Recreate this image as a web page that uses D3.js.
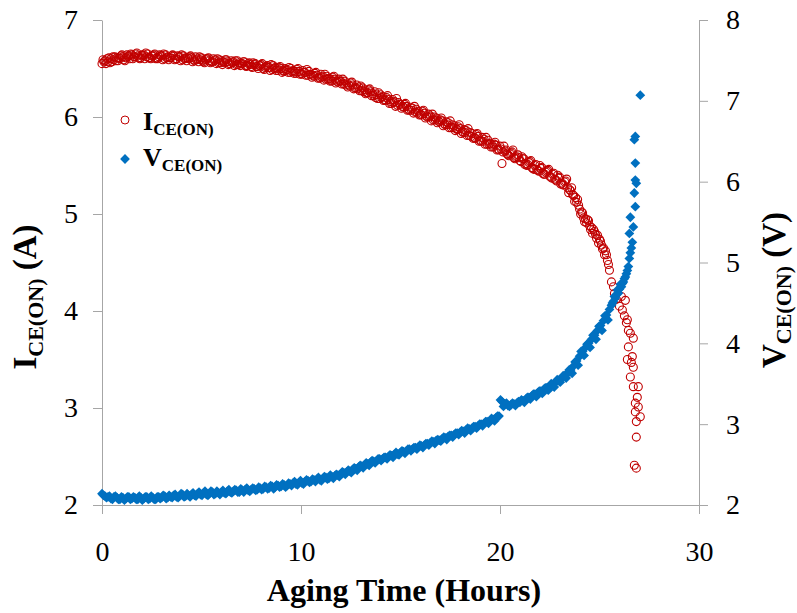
<!doctype html>
<html lang="en">
<head>
<meta charset="utf-8">
<script src="https://d3js.org/d3.v7.min.js"></script>
<title>IGBT aging: ICE(ON) and VCE(ON)</title>
<style>
  body { margin: 0; background: #fff; }
  svg text { font-family: "Liberation Serif", "Times New Roman", serif; fill: #000; }
</style>
</head>
<body>
<svg id="svg" width="797" height="613"></svg>
<script>
// logged every 0.15 h, main part of the run (0 .. 25.5 h)
const sampleInterval = 0.15;

const currentAmps = [
  6.55, 6.58, 6.57, 6.60, 6.59, 6.61, 6.60, 6.62, 6.61, 6.63,
  6.64, 6.62, 6.63, 6.61, 6.64, 6.62, 6.61, 6.63, 6.60, 6.62,
  6.63, 6.60, 6.62, 6.61, 6.63, 6.60, 6.62, 6.59, 6.61, 6.60,
  6.61, 6.58, 6.60, 6.59, 6.57, 6.60, 6.58, 6.57, 6.59, 6.56,
  6.58, 6.56, 6.57, 6.55, 6.57, 6.54, 6.56, 6.55, 6.53, 6.55,
  6.52, 6.54, 6.52, 6.53, 6.50, 6.52, 6.51, 6.49, 6.51, 6.48,
  6.50, 6.47, 6.49, 6.46, 6.48, 6.45, 6.47, 6.44, 6.46, 6.43,
  6.44, 6.42, 6.43, 6.40, 6.42, 6.39, 6.40, 6.37, 6.39, 6.36,
  6.37, 6.34, 6.35, 6.32, 6.33, 6.30, 6.31, 6.27, 6.28, 6.25,
  6.26, 6.22, 6.23, 6.19, 6.21, 6.17, 6.18, 6.14, 6.16, 6.12,
  6.13, 6.10, 6.11, 6.07, 6.09, 6.05, 6.06, 6.02, 6.04, 6.00,
  6.01, 5.97, 5.99, 5.95, 5.96, 5.92, 5.94, 5.89, 5.91, 5.87,
  5.88, 5.84, 5.86, 5.81, 5.83, 5.78, 5.80, 5.75, 5.77, 5.72,
  5.73, 5.69, 5.71, 5.66, 5.52, 5.65, 5.61, 5.63, 5.58, 5.59,
  5.55, 5.57, 5.52, 5.53, 5.48, 5.50, 5.45, 5.47, 5.41, 5.44,
  5.39, 5.41, 5.35, 5.37, 5.32, 5.33, 5.27, 5.24, 5.19, 5.12,
  5.05, 5.01, 4.95, 4.93, 4.86, 4.82, 4.78, 4.72, 4.65, 4.58,
  4.42
];
// second and third reading in each interval
const currentAmpsMid = [
  6.59, 6.55, 6.61, 6.57, 6.62, 6.58, 6.63, 6.59, 6.64, 6.60,
  6.60, 6.65, 6.61, 6.64, 6.60, 6.65, 6.60, 6.64, 6.61, 6.64,
  6.59, 6.64, 6.59, 6.63, 6.59, 6.63, 6.58, 6.63, 6.58, 6.62,
  6.57, 6.62, 6.57, 6.61, 6.56, 6.60, 6.56, 6.60, 6.55, 6.59,
  6.54, 6.59, 6.54, 6.58, 6.53, 6.58, 6.53, 6.57, 6.52, 6.56,
  6.51, 6.55, 6.50, 6.54, 6.49, 6.53, 6.48, 6.53, 6.48, 6.51,
  6.46, 6.50, 6.46, 6.50, 6.45, 6.49, 6.44, 6.48, 6.43, 6.47,
  6.41, 6.45, 6.40, 6.44, 6.38, 6.42, 6.37, 6.41, 6.35, 6.39,
  6.34, 6.37, 6.31, 6.35, 6.29, 6.33, 6.27, 6.30, 6.24, 6.28,
  6.22, 6.26, 6.19, 6.23, 6.17, 6.20, 6.14, 6.18, 6.11, 6.15,
  6.09, 6.13, 6.07, 6.10, 6.04, 6.08, 6.02, 6.06, 5.99, 6.03,
  5.96, 6.00, 5.94, 5.97, 5.91, 5.95, 5.89, 5.92, 5.86, 5.90,
  5.83, 5.87, 5.81, 5.84, 5.78, 5.82, 5.75, 5.79, 5.72, 5.76,
  5.69, 5.72, 5.66, 5.70, 5.64, 5.66, 5.60, 5.64, 5.57, 5.61,
  5.54, 5.57, 5.50, 5.54, 5.47, 5.51, 5.44, 5.48, 5.41, 5.45,
  5.38, 5.42, 5.34, 5.38, 5.30, 5.34, 5.22, 5.27, 5.13, 5.15,
  5.00, 4.96, 4.91, 4.88, 4.80, 4.79, 4.70, 4.68, 4.58, 4.52
];
const currentAmpsLate = [
  6.57, 6.60, 6.56, 6.62, 6.58, 6.61, 6.64, 6.58, 6.62, 6.65,
  6.62, 6.66, 6.60, 6.63, 6.66, 6.61, 6.63, 6.65, 6.60, 6.63,
  6.65, 6.61, 6.61, 6.64, 6.60, 6.62, 6.64, 6.60, 6.61, 6.63,
  6.59, 6.59, 6.62, 6.58, 6.59, 6.61, 6.57, 6.58, 6.60, 6.56,
  6.57, 6.59, 6.55, 6.56, 6.58, 6.54, 6.55, 6.57, 6.53, 6.54,
  6.56, 6.52, 6.53, 6.55, 6.51, 6.51, 6.54, 6.50, 6.50, 6.52,
  6.48, 6.48, 6.51, 6.47, 6.47, 6.50, 6.45, 6.46, 6.49, 6.44,
  6.43, 6.46, 6.41, 6.41, 6.44, 6.39, 6.39, 6.42, 6.37, 6.37,
  6.39, 6.33, 6.33, 6.36, 6.30, 6.29, 6.32, 6.26, 6.25, 6.29,
  6.24, 6.20, 6.25, 6.20, 6.18, 6.22, 6.16, 6.15, 6.19, 6.13,
  6.11, 6.14, 6.08, 6.07, 6.11, 6.04, 6.03, 6.07, 6.01, 6.00,
  6.03, 5.97, 5.96, 5.99, 5.93, 5.92, 5.96, 5.89, 5.88, 5.92,
  5.85, 5.84, 5.88, 5.80, 5.79, 5.83, 5.76, 5.75, 5.79, 5.72,
  5.71, 5.74, 5.67, 5.67, 5.70, 5.62, 5.62, 5.66, 5.58, 5.58,
  5.59, 5.51, 5.51, 5.55, 5.46, 5.46, 5.50, 5.42, 5.43, 5.46,
  5.37, 5.36, 5.40, 5.31, 5.30, 5.36, 5.25, 5.20, 5.17, 5.09,
  5.02, 4.92, 4.94, 4.84, 4.84, 4.75, 4.74, 4.64, 4.62, 4.48
];

const voltageVolts = [
  2.14, 2.11, 2.10, 2.08, 2.10, 2.09, 2.07, 2.09, 2.08, 2.10,
  2.08, 2.09, 2.07, 2.09, 2.08, 2.10, 2.08, 2.09, 2.07, 2.10,
  2.09, 2.11, 2.09, 2.10, 2.12, 2.10, 2.11, 2.13, 2.11, 2.12,
  2.13, 2.12, 2.14, 2.13, 2.15, 2.13, 2.14, 2.16, 2.14, 2.15,
  2.16, 2.15, 2.17, 2.16, 2.17, 2.18, 2.16, 2.18, 2.19, 2.18,
  2.19, 2.20, 2.19, 2.21, 2.20, 2.22, 2.21, 2.23, 2.22, 2.24,
  2.23, 2.25, 2.24, 2.26, 2.27, 2.26, 2.28, 2.27, 2.29, 2.30,
  2.29, 2.31, 2.32, 2.31, 2.33, 2.34, 2.33, 2.35, 2.36, 2.37,
  2.38, 2.40, 2.41, 2.42, 2.44, 2.45, 2.47, 2.48, 2.50, 2.51,
  2.53, 2.54, 2.55, 2.57, 2.57, 2.59, 2.60, 2.61, 2.63, 2.63,
  2.65, 2.66, 2.67, 2.69, 2.69, 2.71, 2.72, 2.73, 2.74, 2.76,
  2.77, 2.78, 2.80, 2.80, 2.82, 2.83, 2.85, 2.86, 2.87, 2.89,
  2.90, 2.91, 2.93, 2.94, 2.95, 2.97, 2.98, 3.00, 3.01, 3.03,
  3.04, 3.06, 3.08, 3.10, 3.28, 3.25, 3.23, 3.24, 3.25, 3.26,
  3.27, 3.29, 3.31, 3.33, 3.35, 3.37, 3.39, 3.41, 3.43, 3.45,
  3.47, 3.49, 3.52, 3.54, 3.57, 3.60, 3.63, 3.67, 3.72, 3.78,
  3.84, 3.90, 3.95, 4.00, 4.05, 4.10, 4.16, 4.22, 4.28, 4.35,
  4.42
];
const voltageVoltsMid = [
  2.12, 2.09, 2.11, 2.07, 2.11, 2.07, 2.10, 2.06, 2.10, 2.07,
  2.10, 2.07, 2.11, 2.06, 2.10, 2.07, 2.11, 2.07, 2.10, 2.08,
  2.12, 2.08, 2.12, 2.09, 2.13, 2.09, 2.14, 2.10, 2.14, 2.10,
  2.15, 2.11, 2.16, 2.12, 2.17, 2.12, 2.17, 2.13, 2.17, 2.13,
  2.18, 2.14, 2.19, 2.15, 2.19, 2.16, 2.20, 2.16, 2.21, 2.17,
  2.21, 2.18, 2.22, 2.19, 2.23, 2.20, 2.24, 2.20, 2.25, 2.22,
  2.26, 2.22, 2.27, 2.24, 2.29, 2.25, 2.30, 2.26, 2.31, 2.28,
  2.32, 2.29, 2.34, 2.30, 2.35, 2.32, 2.37, 2.33, 2.38, 2.35,
  2.41, 2.38, 2.43, 2.40, 2.46, 2.43, 2.49, 2.46, 2.52, 2.49,
  2.55, 2.52, 2.57, 2.55, 2.59, 2.57, 2.62, 2.59, 2.65, 2.62,
  2.67, 2.64, 2.69, 2.67, 2.71, 2.69, 2.74, 2.71, 2.76, 2.74,
  2.79, 2.76, 2.81, 2.79, 2.84, 2.81, 2.86, 2.84, 2.89, 2.87,
  2.92, 2.89, 2.95, 2.92, 2.97, 2.95, 3.00, 2.98, 3.03, 3.01,
  3.07, 3.04, 3.10, 3.30, 3.22, 3.26, 3.22, 3.26, 3.23, 3.28,
  3.30, 3.27, 3.33, 3.31, 3.37, 3.34, 3.41, 3.38, 3.45, 3.42,
  3.50, 3.46, 3.55, 3.52, 3.60, 3.57, 3.67, 3.63, 3.77, 3.73,
  3.90, 3.85, 3.99, 3.95, 4.10, 4.05, 4.21, 4.16, 4.34, 4.29
];

// end of life, irregular samples
const iTailHours = [25.6, 25.7, 25.75, 25.85, 26.0, 26.1, 26.15, 26.25, 26.3, 26.35, 26.4, 26.45, 26.55, 26.7, 26.45, 26.65,
                    26.4, 26.6, 26.7, 26.55, 26.95, 26.7, 26.9, 26.8, 26.95, 26.8, 27.05, 26.85, 26.85, 26.75, 26.85];
const iTailAmps  = [4.30, 4.25, 4.18, 4.12, 4.05, 4.15, 4.01, 3.95, 4.11, 3.88, 3.91, 3.80, 3.77, 3.72, 3.63, 3.53,
                    3.50, 3.47, 3.42, 3.32, 3.22, 3.22, 3.11, 3.05, 3.01, 2.96, 2.91, 2.86, 2.70, 2.41, 2.38];

const vTailHours = [25.6, 25.65, 25.7, 25.75, 25.8, 25.85, 25.9, 25.95, 26.0, 26.05, 26.1, 26.15, 26.2, 26.25, 26.3, 26.35,
                    26.4, 26.45, 26.5, 26.55, 26.6, 26.5, 26.65, 26.7, 26.55, 26.8, 26.75, 26.85, 26.8, 26.8, 26.75, 26.8, 27.05];
const vTailVolts = [4.47, 4.50, 4.52, 4.58, 4.56, 4.60, 4.66, 4.62, 4.67, 4.73, 4.70, 4.74, 4.76, 4.80, 4.82, 4.86,
                    4.90, 4.95, 5.05, 5.12, 5.18, 5.36, 5.25, 5.44, 5.56, 5.69, 5.86, 5.98, 6.02, 6.23, 6.52, 6.56, 7.07];

const xTicks = [0, 10, 20, 30];
const iTicks = [2, 3, 4, 5, 6, 7];
const vTicks = [2, 3, 4, 5, 6, 7, 8];

const red = "#c00000", blue = "#0070c0", axisGrey = "#a6a6a6";
const serif = "'Liberation Serif', 'Times New Roman', serif";
let plotLeft = 102, plotRight = 699, plotTop = 20, plotBottom = 505;

let svg = d3.select("#svg");

let xScale = d3.scaleLinear().domain([0, 30]).range([plotLeft, plotRight]);
let iScale = d3.scaleLinear().domain([2, 7]).range([plotBottom, plotTop]);
let vScale = d3.scaleLinear().domain([2, 8]).range([plotBottom, plotTop]);

function readings(values, offset) {
  return values.map((v, k) => ({ t: offset + k * sampleInterval, v: v }));
}
let iData = readings(currentAmps, 0)
  .concat(readings(currentAmpsMid, sampleInterval / 3))
  .concat(readings(currentAmpsLate, 2 * sampleInterval / 3))
  .concat(iTailHours.map((t, k) => ({ t: t, v: iTailAmps[k] })));
let vData = readings(voltageVolts, 0)
  .concat(readings(voltageVoltsMid, sampleInterval / 2))
  .concat(vTailHours.map((t, k) => ({ t: t, v: vTailVolts[k] })));

function styleAxis(g) {
  g.attr("font-family", null);
  g.selectAll("path.domain").attr("stroke", axisGrey);
  g.selectAll(".tick line").attr("stroke", axisGrey);
  g.selectAll(".tick text").attr("font-size", 28).style("font-family", serif);
}

svg.append("g")
  .attr("transform", `translate(0,${plotBottom})`)
  .call(d3.axisBottom(xScale).tickValues(xTicks).tickFormat(d3.format("d")).tickSize(9).tickSizeOuter(0).tickPadding(27))
  .call(styleAxis);

svg.append("g")
  .attr("transform", `translate(${plotLeft},0)`)
  .call(d3.axisLeft(iScale).tickValues(iTicks).tickFormat(d3.format("d")).tickSize(9).tickSizeOuter(0).tickPadding(15))
  .call(styleAxis);

svg.append("g")
  .attr("transform", `translate(${plotRight},0)`)
  .call(d3.axisRight(vScale).tickValues(vTicks).tickFormat(d3.format("d")).tickSize(9).tickSizeOuter(0).tickPadding(18))
  .call(styleAxis);

// red open circles first, blue diamonds on top
svg.append("g").selectAll("circle")
  .data(iData)
  .join("circle")
  .attr("cx", d => xScale(d.t))
  .attr("cy", d => iScale(d.v))
  .attr("r", 4)
  .attr("fill", "none")
  .attr("stroke", red)
  .attr("stroke-width", 1.1);

let diamond = d3.symbol(d3.symbolSquare, 48);
svg.append("g").selectAll("path")
  .data(vData)
  .join("path")
  .attr("d", diamond)
  .attr("transform", d => `translate(${xScale(d.t)},${vScale(d.v)}) rotate(45)`)
  .attr("fill", blue);

// axis titles
svg.append("text")
  .attr("x", 404).attr("y", 601)
  .attr("text-anchor", "middle")
  .style("font-family", serif)
  .attr("font-size", 32).attr("font-weight", "bold")
  .text("Aging Time (Hours)");

function subTitle(g, main, sub, unit, size, subSize, shift) {
  g.style("font-family", serif);
  g.append("tspan").attr("font-size", size).text(main);
  g.append("tspan").attr("font-size", subSize).attr("dy", shift).text(sub);
  if (unit) g.append("tspan").attr("font-size", size).attr("dy", -shift).text(unit);
}

let iTitle = svg.append("text")
  .attr("transform", "translate(36,297) rotate(-90)")
  .attr("text-anchor", "middle").attr("font-weight", "bold");
subTitle(iTitle, "I", "CE(ON)", " (A)", 33, 22, 7);

let vTitle = svg.append("text")
  .attr("transform", "translate(785,290) rotate(-90)")
  .attr("text-anchor", "middle").attr("font-weight", "bold");
subTitle(vTitle, "V", "CE(ON)", " (V)", 33, 22, 6);

// legend
let legend = svg.append("g");
legend.append("circle").attr("cx", 125).attr("cy", 120).attr("r", 4)
  .attr("fill", "none").attr("stroke", red).attr("stroke-width", 1);
legend.append("path").attr("d", diamond).attr("transform", "translate(125,159) rotate(45)").attr("fill", blue);

let legI = legend.append("text").attr("x", 143).attr("y", 130).attr("font-weight", "bold");
subTitle(legI, "I", "CE(ON)", null, 26, 17, 5);
let legV = legend.append("text").attr("x", 143).attr("y", 166).attr("font-weight", "bold");
subTitle(legV, "V", "CE(ON)", null, 26, 17, 5);
</script>
</body>
</html>
